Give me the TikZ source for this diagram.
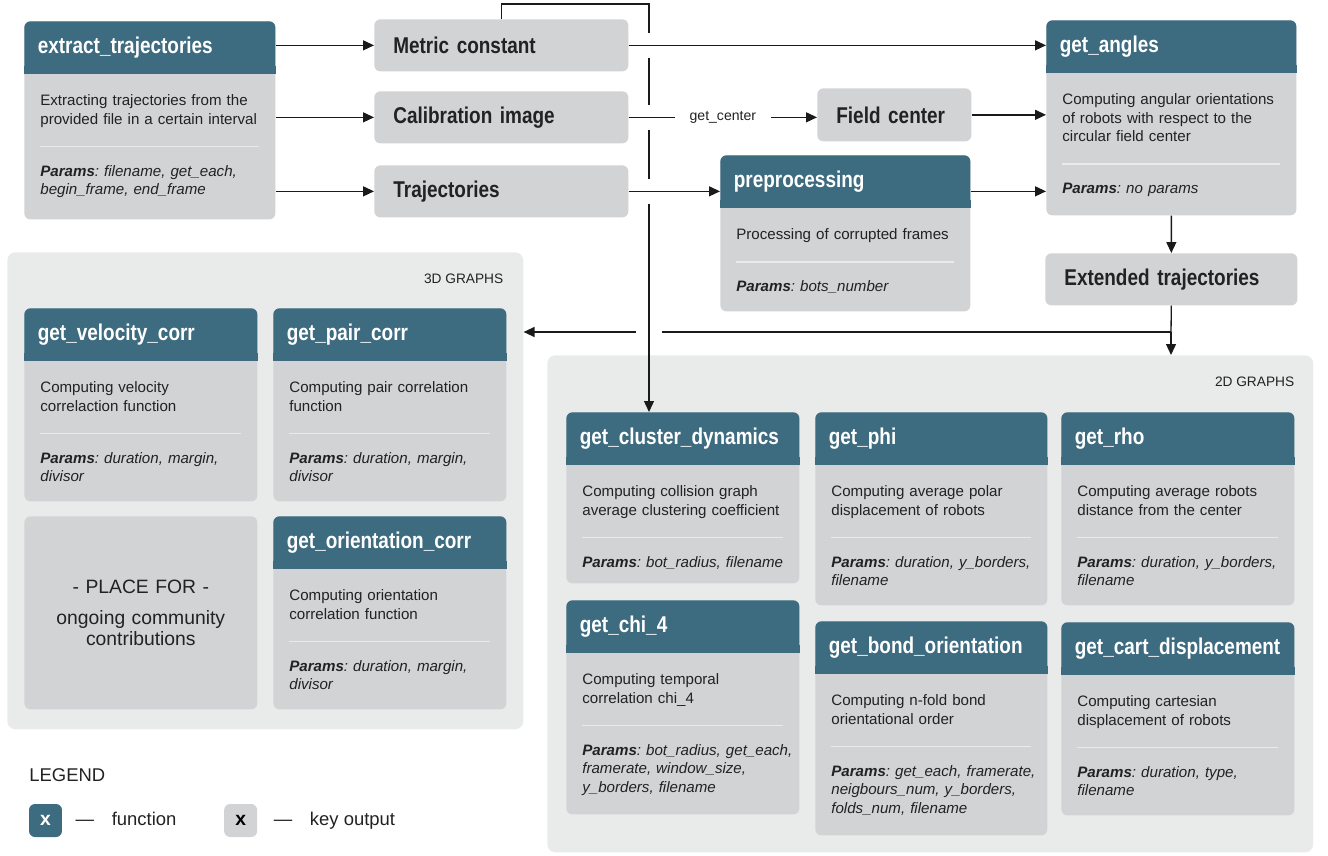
\documentclass[tikz,border=0pt]{standalone}
\usepackage{fontspec}
\setmainfont{Liberation Sans}
\newfontfamily\narrowfont[FakeStretch=0.83]{Liberation Sans}
\usepackage{xcolor}
\usepackage{tikz}
\usetikzlibrary{arrows.meta, positioning}

\definecolor{headteal}{HTML}{3D6B80}
\definecolor{keygray}{HTML}{D2D3D5}
\definecolor{groupgray}{HTML}{E9EBEB}
\definecolor{sepgray}{HTML}{E9EAEB}
\definecolor{inkgray}{HTML}{222222}
\definecolor{linegray}{HTML}{1A1A1A}

% function block: name, left, top, width, header height, total height, title, text, params
\newcommand{\funcblock}[9]{%
  \pgfmathsetlengthmacro\fbw{#4*0.02cm}%
  \pgfmathsetlengthmacro\fbh{#6*0.02cm}%
  \pgfmathsetlengthmacro\fbhh{#5*0.02cm}%
  \pgfmathsetlengthmacro\fbtw{(#4-27)*0.02cm}%
  \pgfmathsetlengthmacro\fbdw{(#4-16)*0.02cm}%
  \pgfmathsetlengthmacro\fbsw{(#4-32)*0.02cm}%
  \node[funcbody, minimum width=\fbw, minimum height=\fbh] (#1-body) at (#2,#3) {};
  \node[funchead, minimum width=\fbw, minimum height=\fbhh, text width=\fbtw] (#1) at (#2,#3) {#7};
  \fill[headteal] (#1.south west) rectangle ([yshift=0.16cm]#1.south east);
  \node[functext, text width=\fbdw] (#1-txt) at ([xshift=0.32cm, yshift=-0.38cm]#1.south west)
    {\strut #8\par\vspace{2.5pt}\textcolor{sepgray}{\rule{\fbsw}{0.9pt}}\par\vspace{6pt}\strut\textit{\textbf{Params}: #9}};
}

\begin{document}
\begin{tikzpicture}[x=0.02cm, y=-0.02cm]
\tikzstyle{groupbox} = [rectangle, rounded corners=0.16cm, fill=groupgray, anchor=north west, inner sep=0]
\tikzstyle{grouplabel} = [anchor=east, inner sep=0, text=inkgray, font=\fontsize{7.8}{9}\selectfont]
\tikzstyle{funcbody} = [rectangle, rounded corners=0.12cm, fill=keygray, anchor=north west, inner sep=0]
\tikzstyle{funchead} = [rectangle, rounded corners=0.12cm, fill=headteal, anchor=north west, inner xsep=0.27cm, inner ysep=0, align=left, text=white, font=\narrowfont\bfseries\fontsize{13}{15}\selectfont]
\tikzstyle{functext} = [anchor=north west, inner sep=0, align=left, text=inkgray, font=\fontsize{8.6}{10.5}\selectfont\frenchspacing]
\tikzstyle{keybox} = [rectangle, rounded corners=0.12cm, fill=keygray, anchor=north west, inner xsep=0.38cm, inner ysep=0, align=left, text=inkgray, font=\narrowfont\bfseries\fontsize{13}{15}\selectfont]
\tikzstyle{centerlabel} = [fill=white, inner xsep=0.3cm, inner ysep=0.05cm, text=inkgray, font=\fontsize{8}{9}\selectfont]
\tikzstyle{legtext} = [inner sep=0, text height=0.75em, text depth=0.2em, text=inkgray, font=\fontsize{10.5}{12}\selectfont]
\tikzstyle{legfunc} = [rectangle, rounded corners=0.12cm, fill=headteal, minimum size=0.66cm, inner sep=0, text=white, font=\bfseries\fontsize{11}{12}\selectfont]
\tikzstyle{legkey} = [legfunc, fill=keygray, text=black]
\tikzstyle{link} = [line width=0.75pt, draw=linegray]
\tikzstyle{arrow} = [link, -{Triangle[length=0.22cm, width=0.2cm]}]

\useasboundingbox (0,0) rectangle (1328,855);

% groups
\node[groupbox, minimum width=10.32cm, minimum height=9.54cm] (g3d) at (7,252) {};
\node[grouplabel] (g3d-label) at ([xshift=-0.4cm, yshift=-0.54cm]g3d.north east) {3D GRAPHS};
\node[groupbox, minimum width=15.32cm, minimum height=9.94cm] (g2d) at (547,355) {};
\node[grouplabel] (g2d-label) at ([xshift=-0.38cm, yshift=-0.54cm]g2d.north east) {2D GRAPHS};

% functions
\funcblock{extract}{24}{21}{251}{52}{198}{extract\_trajectories}{Extracting trajectories from the\\provided file in a certain interval}{filename, get\_each,\\begin\_frame, end\_frame}
\funcblock{angles}{1046}{20}{250}{52}{195}{get\_angles}{Computing angular orientations\\of robots with respect to the\\circular field center}{no params}
\funcblock{prep}{720}{155}{250}{52}{156}{preprocessing}{Processing of corrupted frames}{bots\_number}
\funcblock{velcorr}{24}{308}{233}{52}{193}{get\_velocity\_corr}{Computing velocity\\correlaction function}{duration, margin,\\divisor}
\funcblock{paircorr}{273}{308}{233}{52}{193}{get\_pair\_corr}{Computing pair correlation\\function}{duration, margin,\\divisor}
\funcblock{oricorr}{273}{516}{233}{52}{193}{get\_orientation\_corr}{Computing orientation\\correlation function}{duration, margin,\\divisor}
\funcblock{cluster}{566}{412}{233}{52}{171}{get\_cluster\_dynamics}{Computing collision graph\\average clustering coefficient}{bot\_radius, filename}
\funcblock{chi}{566}{600}{233}{52}{214}{get\_chi\_4}{Computing temporal\\correlation chi\_4}{bot\_radius, get\_each,\\framerate, window\_size,\\y\_borders, filename}
\funcblock{phi}{815}{412}{232}{52}{193}{get\_phi}{Computing average polar\\displacement of robots}{duration, y\_borders,\\filename}
\funcblock{bond}{815}{621}{232}{52}{214}{get\_bond\_orientation}{Computing n-fold bond\\orientational order}{get\_each, framerate,\\neigbours\_num, y\_borders,\\folds\_num, filename}
\funcblock{rho}{1061}{412}{233}{52}{193}{get\_rho}{Computing average robots\\distance from the center}{duration, y\_borders,\\filename}
\funcblock{cart}{1061}{622}{233}{52}{193}{get\_cart\_displacement}{Computing cartesian\\displacement of robots}{duration, type,\\filename}

% key outputs
\node[keybox, minimum width=5.08cm, minimum height=1.04cm, text width=4.32cm] (metric) at (374,19) {Metric constant};
\node[keybox, minimum width=5.08cm, minimum height=1.04cm, text width=4.32cm] (calib) at (374,91) {Calibration image};
\node[keybox, minimum width=5.08cm, minimum height=1.04cm, text width=4.32cm] (traj) at (374,165) {Trajectories};
\node[keybox, minimum width=3.08cm, minimum height=1.06cm, text width=2.32cm] (field) at (817,88) {Field center};
\node[keybox, minimum width=5.04cm, minimum height=1.04cm, text width=4.28cm] (ext) at (1045,253) {Extended trajectories};
\node[keybox, minimum width=4.66cm, minimum height=3.86cm, text width=3.9cm, align=center, font=\fontsize{11}{12}\selectfont] (place) at (24,516) {- PLACE FOR -\\[5.5pt]ongoing community\\contributions};

% connectors
\coordinate (bus) at (649,4);
\coordinate (split) at (1171,332);
\coordinate (hop0) at (bus |- split);
\coordinate (hop1) at (bus |- metric.east);
\coordinate (hop2) at (bus |- calib.east);
\coordinate (hop3) at (bus |- traj.east);

\draw[link] (ext.south) -- (split);
\draw[arrow] (split) -- (split |- g2d.north);
\draw[arrow] (split) -- (split -| g3d.east);
\fill[white] ([shift={(-13,-3)}]hop0) rectangle ([shift={(13,3)}]hop0);

\draw[arrow] (metric.north) |- (bus) -- (bus |- cluster.north);
\foreach \h in {hop1, hop2, hop3}
  \fill[white] ([shift={(-3,-12)}]\h) rectangle ([shift={(3,13)}]\h);

\draw[arrow] (metric.west -| extract.east) -- (metric.west);
\draw[arrow] (calib.west -| extract-body.east) -- (calib.west);
\draw[arrow] (traj.west -| extract-body.east) -- (traj.west);
\draw[arrow] (metric.east) -- (metric.east -| angles.west);
\draw[arrow] (calib.east) -- node[centerlabel] (getcenter) {get\_center} (calib.east -| field.west);
\draw[arrow] (field.east) -- (field.east -| angles.west);
\draw[arrow] (traj.east) -- (traj.east -| prep.west);
\draw[arrow] (traj.east -| prep.east) -- (traj.east -| angles.west);
\draw[arrow] (angles-body.south) -- (ext.north);

% legend
\node[legtext, anchor=west] (legend) at (29,777) {LEGEND};
\node[legfunc] (leg-fn) at (45.5,820.5) {x};
\node[legtext, right=0.26cm of leg-fn] (leg-fn-dash) {—};
\node[legtext, right=0.34cm of leg-fn-dash] (leg-fn-txt) {function};
\node[legkey, right=0.94cm of leg-fn-txt] (leg-key) {x};
\node[legtext, right=0.32cm of leg-key] (leg-key-dash) {—};
\node[legtext, right=0.34cm of leg-key-dash] (leg-key-txt) {key output};

\end{tikzpicture}
\end{document}
